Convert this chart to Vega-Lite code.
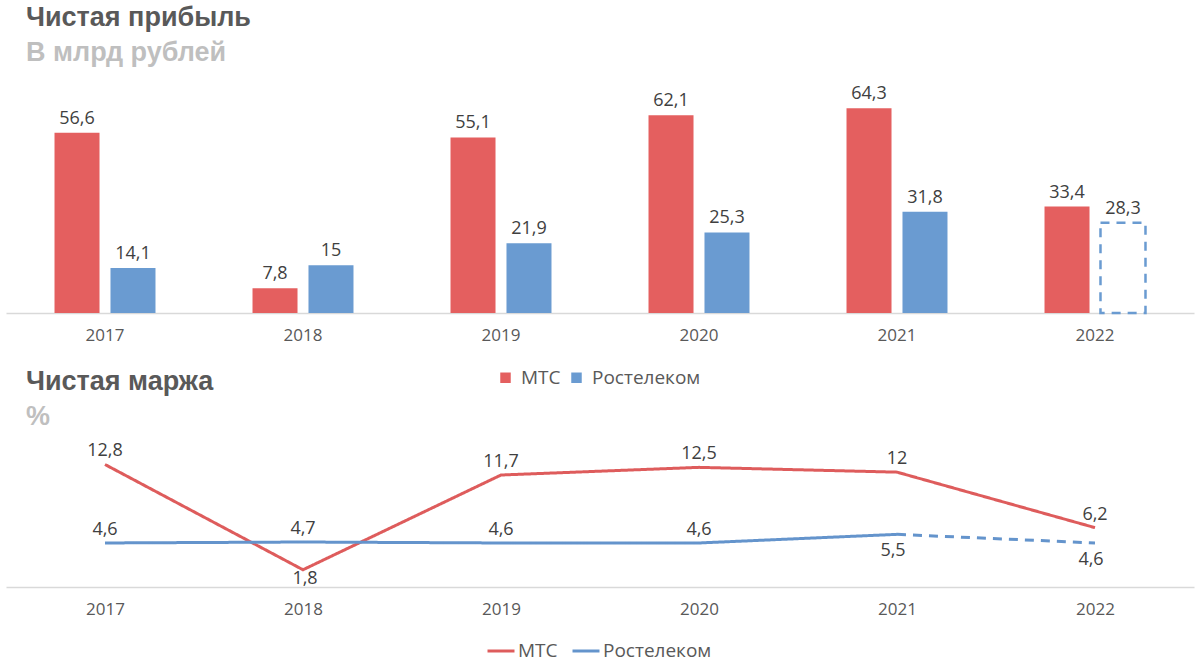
{
  "$schema": "https://vega.github.io/schema/vega-lite/v6.json",
  "background": "white",
  "padding": {"left": 6, "top": 4, "right": 6, "bottom": 12},
  "spacing": -20,
  "config": {
    "view": {"stroke": null},
    "font": "Open Sans",
    "title": {"anchor": "start", "frame": "group", "font": "Liberation Sans", "fontSize": 27, "fontWeight": "bold", "color": "#595959", "subtitleFont": "Liberation Sans", "subtitleFontSize": 27, "subtitleFontWeight": "bold", "subtitleColor": "#BFBFBF", "subtitlePadding": 8, "dx": 20, "offset": 18},
    "axisX": {"domainColor": "#D9D9D9", "domainWidth": 1.5, "ticks": false, "grid": false, "labelFont": "Open Sans", "labelFontSize": 17, "labelColor": "#595959", "labelPadding": 14, "labelAngle": 0, "title": null},
    "legend": {"labelFont": "Open Sans", "labelFontSize": 19, "labelColor": "#595959", "title": null, "orient": "none", "direction": "horizontal"}
  },
  "resolve": {"scale": {"color": "independent"}, "legend": {"color": "independent"}},
  "datasets": {
    "profit": [
      {"year": "2017", "company": "МТС", "value": 56.6, "label": "56,6", "forecast": false},
      {"year": "2017", "company": "Ростелеком", "value": 14.1, "label": "14,1", "forecast": false},
      {"year": "2018", "company": "МТС", "value": 7.8, "label": "7,8", "forecast": false},
      {"year": "2018", "company": "Ростелеком", "value": 15, "label": "15", "forecast": false},
      {"year": "2019", "company": "МТС", "value": 55.1, "label": "55,1", "forecast": false},
      {"year": "2019", "company": "Ростелеком", "value": 21.9, "label": "21,9", "forecast": false},
      {"year": "2020", "company": "МТС", "value": 62.1, "label": "62,1", "forecast": false},
      {"year": "2020", "company": "Ростелеком", "value": 25.3, "label": "25,3", "forecast": false},
      {"year": "2021", "company": "МТС", "value": 64.3, "label": "64,3", "forecast": false},
      {"year": "2021", "company": "Ростелеком", "value": 31.8, "label": "31,8", "forecast": false},
      {"year": "2022", "company": "МТС", "value": 33.4, "label": "33,4", "forecast": false},
      {"year": "2022", "company": "Ростелеком", "value": 28.3, "label": "28,3", "forecast": true}
    ],
    "margin": [
      {"year": "2017", "company": "МТС", "value": 12.8, "label": "12,8", "part": "fact"},
      {"year": "2018", "company": "МТС", "value": 1.8, "label": "1,8", "part": "fact"},
      {"year": "2019", "company": "МТС", "value": 11.7, "label": "11,7", "part": "fact"},
      {"year": "2020", "company": "МТС", "value": 12.5, "label": "12,5", "part": "fact"},
      {"year": "2021", "company": "МТС", "value": 12, "label": "12", "part": "fact"},
      {"year": "2022", "company": "МТС", "value": 6.2, "label": "6,2", "part": "fact"},
      {"year": "2017", "company": "Ростелеком", "value": 4.6, "label": "4,6", "part": "fact"},
      {"year": "2018", "company": "Ростелеком", "value": 4.7, "label": "4,7", "part": "fact"},
      {"year": "2019", "company": "Ростелеком", "value": 4.6, "label": "4,6", "part": "fact"},
      {"year": "2020", "company": "Ростелеком", "value": 4.6, "label": "4,6", "part": "fact"},
      {"year": "2021", "company": "Ростелеком", "value": 5.5, "label": "5,5", "part": "fact"},
      {"year": "2021", "company": "Ростелеком", "value": 5.5, "label": "5,5", "part": "proj"},
      {"year": "2022", "company": "Ростелеком", "value": 4.6, "label": "4,6", "part": "proj"}
    ]
  },
  "vconcat": [
    {
      "width": 1188,
      "height": 223,
      "title": {"text": "Чистая прибыль", "subtitle": "В млрд рублей"},
      "data": {"name": "profit"},
      "encoding": {
        "x": {"field": "year", "type": "nominal", "scale": {"paddingInner": 0.49, "paddingOuter": 0.245}},
        "xOffset": {"field": "company", "type": "nominal", "scale": {"paddingInner": 0.196, "paddingOuter": 0}},
        "y": {"field": "value", "type": "quantitative", "axis": null, "scale": {"domain": [0, 70], "nice": false}}
      },
      "layer": [
        {
          "transform": [{"filter": "!datum.forecast"}],
          "mark": {"type": "bar"},
          "encoding": {
            "color": {"field": "company", "type": "nominal", "scale": {"domain": ["МТС", "Ростелеком"], "range": ["#E45F5F", "#6A9BD1"]},
              "legend": {"symbolType": "square", "symbolSize": 110, "legendX": 490, "legendY": 278, "columnPadding": 6, "labelOffset": 6}}
          }
        },
        {
          "transform": [{"filter": "datum.forecast"}],
          "mark": {"type": "bar", "fill": "white", "stroke": "#6A9BD1", "strokeWidth": 2.5, "strokeDash": [9, 7]}
        },
        {
          "mark": {"type": "text", "baseline": "alphabetic", "dy": -9, "fontSize": 18, "color": "#404040", "font": "Open Sans"},
          "encoding": {"text": {"field": "label"}}
        }
      ]
    },
    {
      "width": 1188,
      "height": 134,
      "title": {"text": "Чистая маржа", "subtitle": "%", "offset": 11},
      "data": {"name": "margin"},
      "encoding": {
        "x": {"field": "year", "type": "ordinal", "scale": {"type": "point", "padding": 0.5}},
        "y": {"field": "value", "type": "quantitative", "axis": null, "scale": {"domain": [0, 14], "nice": false}}
      },
      "layer": [
        {
          "mark": {"type": "line", "strokeWidth": 3},
          "encoding": {
            "color": {"field": "company", "type": "nominal", "scale": {"domain": ["МТС", "Ростелеком"], "range": ["#DE5C5C", "#6494CC"]},
              "legend": {"symbolType": "stroke", "symbolSize": 729, "symbolStrokeWidth": 3, "legendX": 480, "legendY": 183, "columnPadding": 8, "labelOffset": 2}},
            "detail": {"field": "part"},
            "strokeDash": {"field": "part", "type": "nominal", "scale": {"domain": ["fact", "proj"], "range": [[1, 0], [9, 7]]}, "legend": null}
          }
        },
        {
          "transform": [{"filter": "datum.part == 'fact' || datum.year == '2022'"}, {"filter": "!((datum.company == 'МТС' && datum.year == '2018') || (datum.company == 'Ростелеком' && (datum.year == '2021' || datum.year == '2022')))"}],
          "mark": {"type": "text", "baseline": "alphabetic", "dy": -8, "fontSize": 18, "color": "#404040", "font": "Open Sans"},
          "encoding": {"text": {"field": "label"}}
        },
        {
          "transform": [{"filter": "datum.company == 'Ростелеком' && datum.part == 'proj'"}],
          "mark": {"type": "text", "baseline": "alphabetic", "dy": 22, "dx": -4, "fontSize": 18, "color": "#404040", "font": "Open Sans"},
          "encoding": {"text": {"field": "label"}}
        },
        {
          "transform": [{"filter": "datum.company == 'МТС' && datum.year == '2018'"}],
          "mark": {"type": "text", "baseline": "alphabetic", "dy": 14, "dx": 2, "fontSize": 18, "color": "#404040", "font": "Open Sans"},
          "encoding": {"text": {"field": "label"}}
        }
      ]
    }
  ]
}
